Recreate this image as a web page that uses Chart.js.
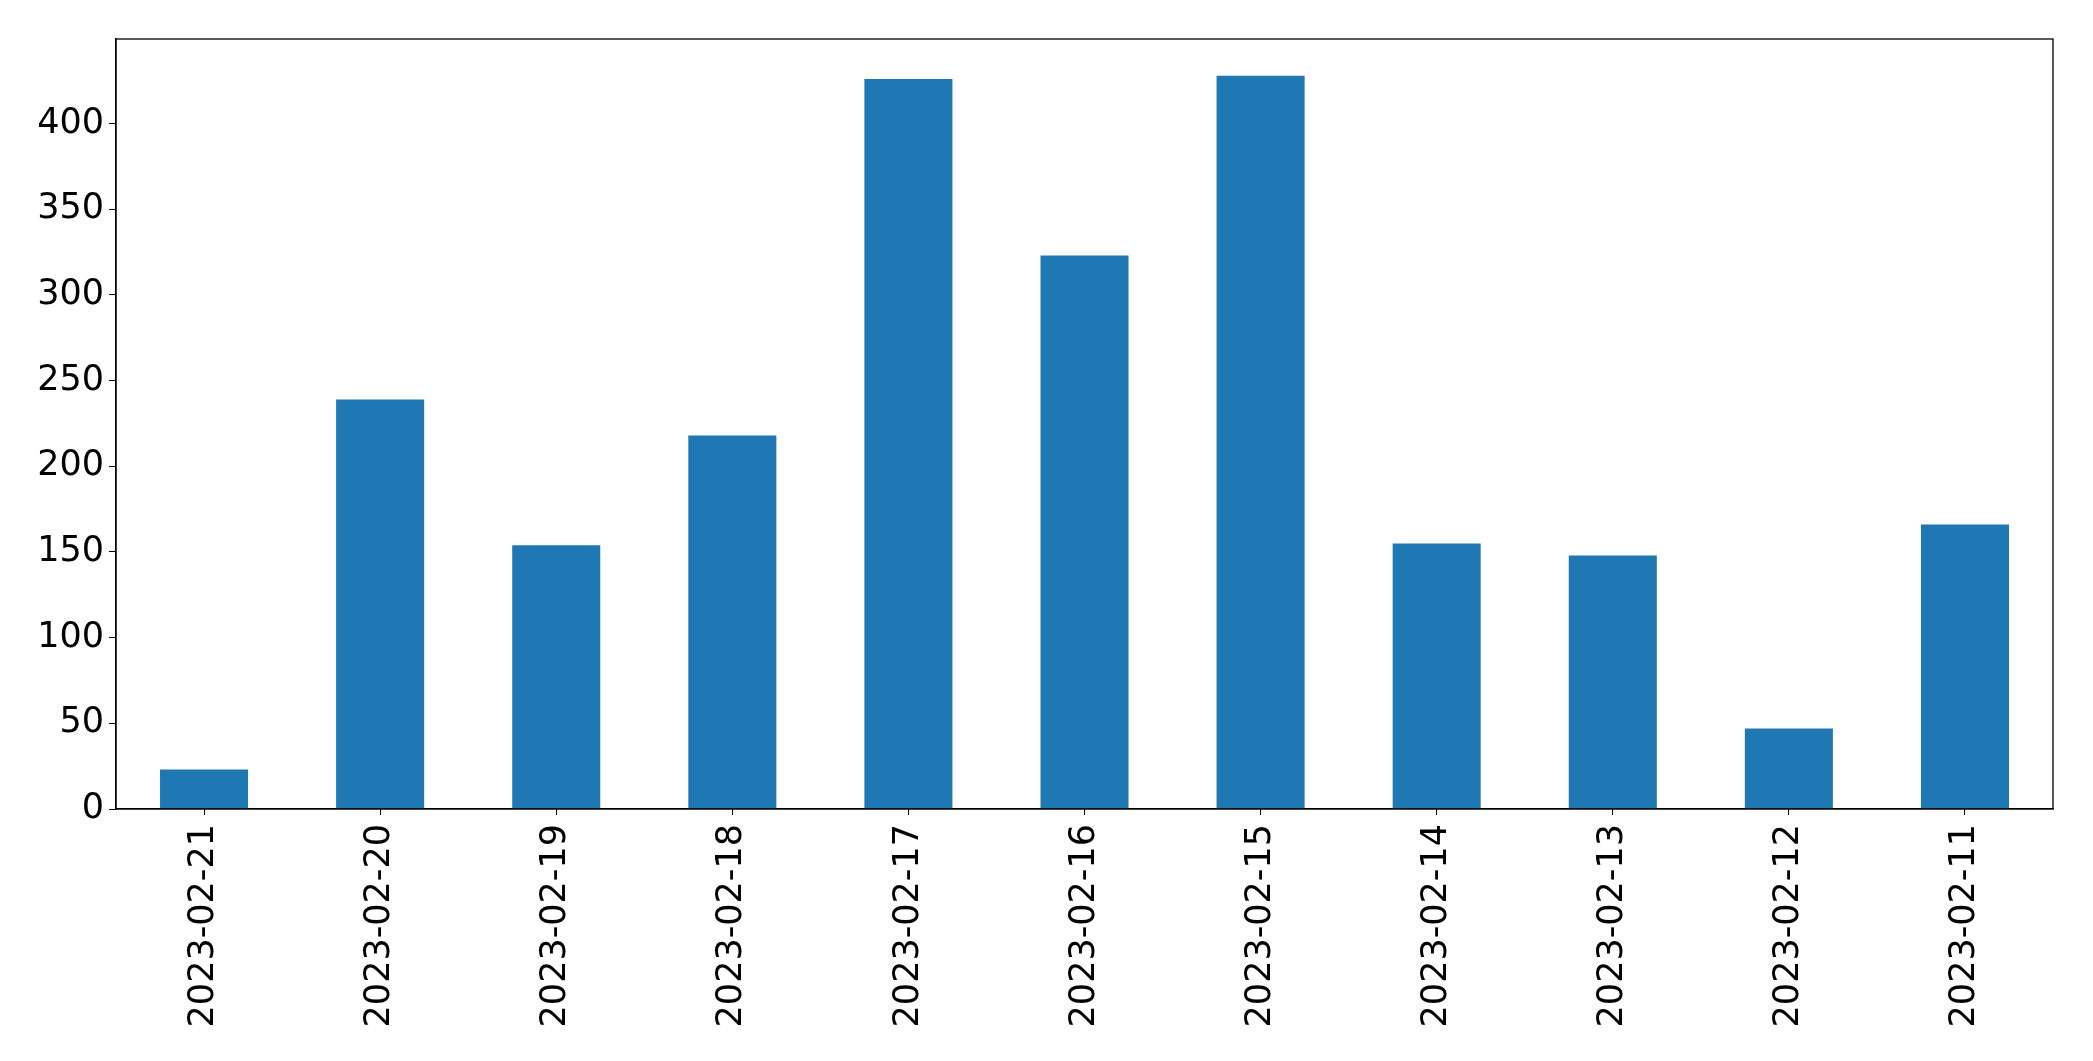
<!DOCTYPE html>
<html>
<head>
<meta charset="utf-8">
<script src="https://cdn.jsdelivr.net/npm/chart.js@4"></script>
<style>
  body { margin: 0; background: #fff; }
  #wrap { width: 2093px; height: 1061px; position: relative; }
</style>
</head>
<body>
<div id="wrap"><canvas id="grafico"></canvas></div>
<script>
// dados
const datas = ['2023-02-21', '2023-02-20', '2023-02-19', '2023-02-18', '2023-02-17', '2023-02-16',
  '2023-02-15', '2023-02-14', '2023-02-13', '2023-02-12', '2023-02-11'];
const valores = [23, 239, 154, 218, 426, 323, 428, 155, 148, 47, 166];
const ticksY = [0, 50, 100, 150, 200, 250, 300, 350, 400];

// moldura completa em volta da área do gráfico (estilo matplotlib)
const moldura = {
  id: 'moldura',
  afterDraw(chart) {
    const a = chart.chartArea;
    const ctx = chart.ctx;
    ctx.save();
    ctx.strokeStyle = '#000';
    ctx.lineWidth = 1.3;
    ctx.strokeRect(a.left, a.top, a.right - a.left, a.bottom - a.top);
    ctx.restore();
  }
};

Chart.defaults.font.family = '"DejaVu Sans", sans-serif';
Chart.defaults.color = '#000';

const ctx = document.getElementById('grafico').getContext('2d');
new Chart(ctx, {
  type: 'bar',
  data: {
    labels: datas,
    datasets: [{
      data: valores,
      backgroundColor: '#1f77b4',
      barPercentage: 0.5,
      categoryPercentage: 1.0
    }]
  },
  options: {
    responsive: true,
    maintainAspectRatio: false,
    animation: false,
    layout: {
      padding: { top: 39, right: 40, left: 0, bottom: 0 }
    },
    plugins: {
      legend: { display: false },
      tooltip: { enabled: false }
    },
    scales: {
      x: {
        offset: true,
        grid: { display: true, drawOnChartArea: false, tickLength: 6, color: '#000', offset: false },
        border: { display: true, color: '#000', width: 1.3 },
        ticks: {
          minRotation: 90,
          maxRotation: 90,
          autoSkip: false,
          padding: 9,
          font: { size: 35 }
        },
        afterFit: function(scale) { scale.height = 252; }
      },
      y: {
        min: 0,
        max: Math.max(...valores) * 1.05,
        grid: { display: true, drawOnChartArea: false, tickLength: 7, color: '#000' },
        border: { display: true, color: '#000', width: 1.3 },
        afterBuildTicks: function(scale) {
          scale.ticks = ticksY.map(v => ({ value: v }));
        },
        ticks: {
          padding: 5,
          font: { size: 35 }
        },
        afterFit: function(scale) { scale.width = 116; }
      }
    }
  },
  plugins: [moldura]
});
</script>
</body>
</html>
